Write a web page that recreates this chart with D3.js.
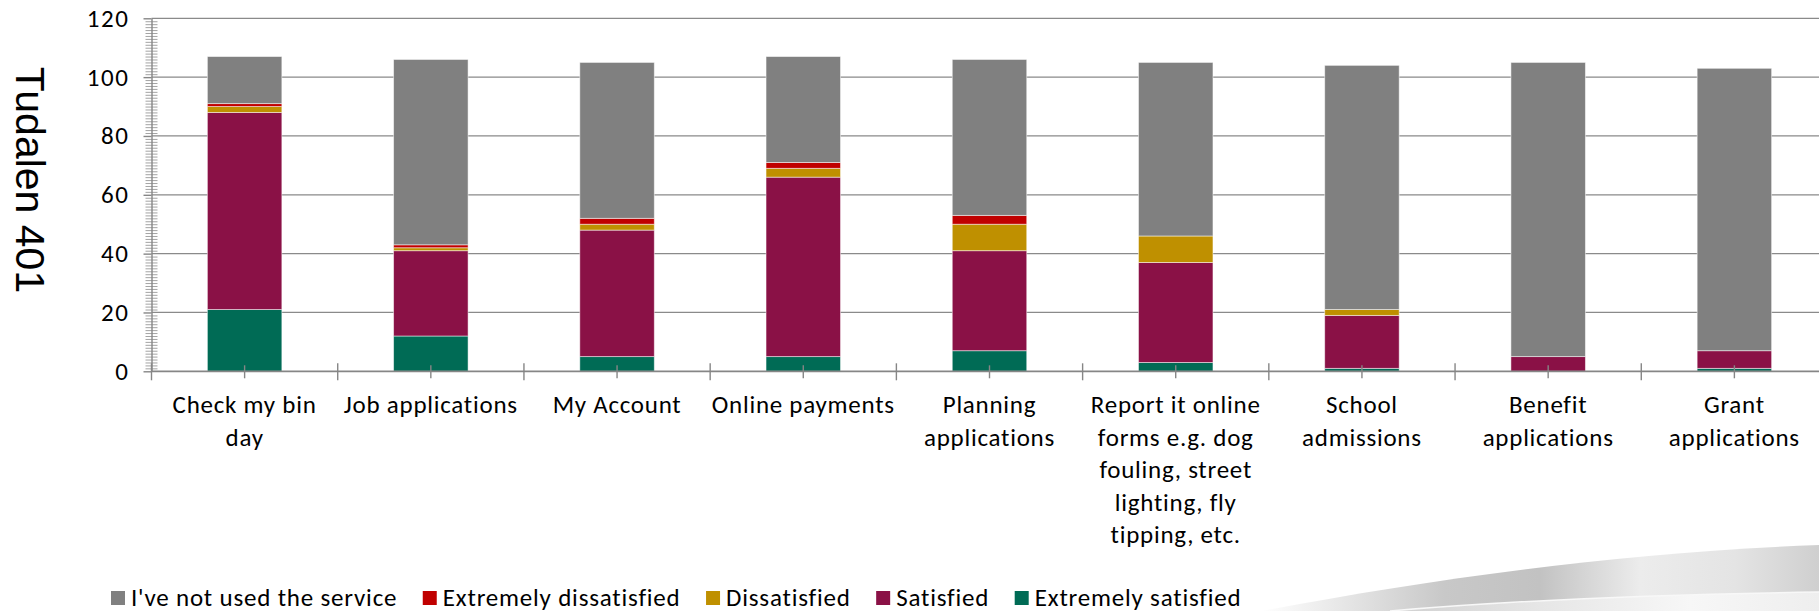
<!DOCTYPE html>
<html>
<head>
<meta charset="utf-8">
<script src="https://cdn.jsdelivr.net/npm/d3@7"></script>
<style>
  html, body { margin: 0; padding: 0; background: #fff; overflow: hidden; }
  svg { display: block; }
</style>
</head>
<body>
<svg id="chart" width="1819" height="611"></svg>
<script>
// ---- data ----
const categories = [
  "Check my bin day", "Job applications", "My Account", "Online payments",
  "Planning applications",
  "Report it online forms e.g. dog fouling, street lighting, fly tipping, etc.",
  "School admissions", "Benefit applications", "Grant applications"
];
const categoryLines = [
  ["Check my bin", "day"], ["Job applications"], ["My Account"], ["Online payments"],
  ["Planning", "applications"],
  ["Report it online", "forms e.g. dog", "fouling, street", "lighting, fly", "tipping, etc."],
  ["School", "admissions"], ["Benefit", "applications"], ["Grant", "applications"]
];
const extremelySatisfied    = [21, 12,  5,  5,  7,  3,  1,   0,  1];
const satisfied             = [67, 29, 43, 61, 34, 34, 18,   5,  6];
const dissatisfied          = [ 2,  1,  2,  3,  9,  9,  2,   0,  0];
const extremelyDissatisfied = [ 1,  1,  2,  2,  3,  0,  0,   0,  0];
const notUsed               = [16, 63, 53, 36, 53, 59, 83, 100, 96];

// stacking order, bottom to top
const seriesNames  = ["Extremely satisfied", "Satisfied", "Dissatisfied", "Extremely dissatisfied", "I've not used the service"];
const seriesValues = [extremelySatisfied, satisfied, dissatisfied, extremelyDissatisfied, notUsed];
const seriesColors = ["#006B55", "#8A1146", "#BF9000", "#C00000", "#808080"];
const legendOrder  = [4, 3, 2, 1, 0];

const yTicks = [0, 20, 40, 60, 80, 100, 120];
const yAxisTitle = "Tudalen 401";

// ---- layout ----
const plot = { left: 151.5, right: 1827.5, top: 18.3, bottom: 371.3 };
const FONT = "Carlito, Calibri, Lato, 'Open Sans', sans-serif";
const axisGrey = "#868686";

const svg = d3.select("#chart");

const rows = categories.map((c, i) => {
  const r = { category: c };
  seriesNames.forEach((s, k) => { r[s] = seriesValues[k][i]; });
  return r;
});

const x = d3.scaleBand().domain(categories).range([plot.left, plot.right]).padding(0);
const y = d3.scaleLinear().domain([0, 120]).range([plot.bottom, plot.top]);
const color = d3.scaleOrdinal().domain(seriesNames).range(seriesColors);
const barW = x.bandwidth() * 0.4;

// ---- background swoosh (bottom right) ----
const defs = svg.append("defs");
const g1 = defs.append("linearGradient").attr("id", "swooshOuter")
  .attr("x1", 1260).attr("x2", 1819).attr("y1", 0).attr("y2", 0)
  .attr("gradientUnits", "userSpaceOnUse");
[[0, "#ffffff"], [0.15, "#e6e6e6"], [0.33, "#c8c8c8"], [0.5, "#c2c2c2"], [0.68, "#ececec"], [0.85, "#e4e4e4"], [1, "#cfcfcf"]]
  .forEach(([o, c]) => g1.append("stop").attr("offset", o).attr("stop-color", c));
const g2 = defs.append("linearGradient").attr("id", "swooshInner")
  .attr("x1", 1390).attr("x2", 1819).attr("y1", 0).attr("y2", 0)
  .attr("gradientUnits", "userSpaceOnUse");
[[0, "#d0d0d0"], [0.35, "#e6e6e6"], [0.7, "#f7f7f7"], [1, "#eeeeee"]]
  .forEach(([o, c]) => g2.append("stop").attr("offset", o).attr("stop-color", c));

svg.append("path")
  .attr("d", "M1262,611 C1420,581 1610,553 1819,545 L1819,611 Z")
  .attr("fill", "url(#swooshOuter)");
svg.append("path")
  .attr("d", "M1390,611 C1520,600 1680,594 1819,592 L1819,611 Z")
  .attr("fill", "url(#swooshInner)");
svg.append("path")
  .attr("d", "M1390,611 C1520,600 1680,594 1819,592")
  .attr("fill", "none").attr("stroke", "#f8f8f8").attr("stroke-width", 1.5);

// ---- gridlines ----
svg.append("g").selectAll("line")
  .data(yTicks.filter(t => t > 0))
  .join("line")
  .attr("x1", plot.left).attr("x2", plot.right)
  .attr("y1", d => y(d)).attr("y2", d => y(d))
  .attr("stroke", "#8a8a8a").attr("stroke-width", 1.3);

// ---- stacked bars ----
const stacked = d3.stack().keys(seriesNames)(rows);
svg.append("g").selectAll("g")
  .data(stacked)
  .join("g")
  .attr("fill", d => color(d.key))
  .selectAll("rect")
  .data(d => d.filter(p => p[1] - p[0] > 0))
  .join("rect")
  .attr("x", d => x(d.data.category) + (x.bandwidth() - barW) / 2)
  .attr("width", barW)
  .attr("y", d => y(d[1]))
  .attr("height", d => y(d[0]) - y(d[1]))
  .attr("stroke", "rgba(255,255,255,0.55)")
  .attr("stroke-width", 0.9);

// ---- y axis: minor ticks, major ticks, labels ----
svg.append("g")
  .attr("transform", `translate(${plot.left + 6},0)`)
  .call(d3.axisLeft(y).tickValues(d3.range(0, 121, 1).filter(v => v % 20 !== 0)).tickSize(12).tickFormat(""))
  .call(g => g.select(".domain").remove())
  .call(g => g.selectAll(".tick line").attr("stroke", "#a3a3a3").attr("stroke-width", 1));

svg.append("g")
  .attr("transform", `translate(${plot.left},0)`)
  .call(d3.axisLeft(y).tickValues(yTicks).tickSize(8).tickPadding(14).tickSizeOuter(0))
  .call(g => g.select(".domain").attr("stroke", axisGrey).attr("stroke-width", 1.4))
  .call(g => g.selectAll(".tick line").attr("stroke", axisGrey).attr("stroke-width", 1.4))
  .call(g => g.selectAll(".tick text")
    .attr("font-family", FONT).attr("font-size", 25).attr("letter-spacing", 1.6).attr("fill", "#000"));

// ---- x axis ----
const xAxis = svg.append("g");
xAxis.append("line")
  .attr("x1", plot.left).attr("x2", plot.right)
  .attr("y1", plot.bottom).attr("y2", plot.bottom)
  .attr("stroke", axisGrey).attr("stroke-width", 1.8);
// category boundary ticks
xAxis.selectAll("line.bound")
  .data(categories.map(c => x(c)).concat([x.range()[1]]))
  .join("line").attr("class", "bound")
  .attr("x1", d => d).attr("x2", d => d)
  .attr("y1", plot.bottom - 8).attr("y2", plot.bottom + 9)
  .attr("stroke", axisGrey).attr("stroke-width", 1.4);
// category centre ticks
xAxis.selectAll("line.mid")
  .data(categories)
  .join("line").attr("class", "mid")
  .attr("x1", d => x(d) + x.bandwidth() / 2).attr("x2", d => x(d) + x.bandwidth() / 2)
  .attr("y1", plot.bottom - 6).attr("y2", plot.bottom + 7)
  .attr("stroke", axisGrey).attr("stroke-width", 1.4);

// category labels
const labels = svg.append("g")
  .attr("font-family", FONT).attr("font-size", 25).attr("letter-spacing", 0.75)
  .attr("fill", "#000").attr("text-anchor", "middle");
labels.selectAll("text")
  .data(categories)
  .join("text")
  .attr("x", d => x(d) + x.bandwidth() / 2)
  .attr("y", 413)
  .selectAll("tspan")
  .data((d, i) => categoryLines[i].map((t, j) => ({ t, j, cx: x(d) + x.bandwidth() / 2 })))
  .join("tspan")
  .attr("x", d => d.cx)
  .attr("y", d => 413 + d.j * 32.5)
  .text(d => d.t);

// ---- y axis title ----
svg.append("text")
  .attr("transform", "translate(30,180) rotate(90)")
  .attr("text-anchor", "middle")
  .attr("dominant-baseline", "central")
  .attr("font-family", "'Liberation Sans', Arial, sans-serif")
  .attr("font-size", 41)
  .attr("fill", "#000")
  .text(yAxisTitle);

// ---- legend ----
const legend = svg.append("g")
  .attr("font-family", FONT).attr("font-size", 25).attr("letter-spacing", 0.8);
let lx = 111;
legendOrder.forEach(k => {
  const item = legend.append("g");
  item.append("rect")
    .attr("x", lx).attr("y", 591).attr("width", 14).attr("height", 14)
    .attr("fill", seriesColors[k]);
  const t = item.append("text")
    .attr("x", lx + 20).attr("y", 597)
    .attr("dominant-baseline", "central")
    .attr("fill", "#000")
    .text(seriesNames[k]);
  lx += 20 + t.node().getComputedTextLength() + 25.5;
});
</script>
</body>
</html>
